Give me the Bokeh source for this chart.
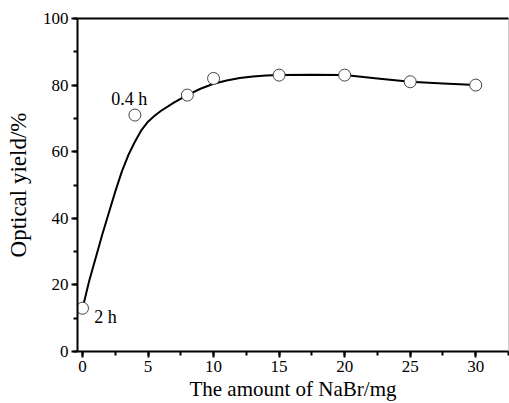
from bokeh.plotting import figure
from bokeh.models import SingleIntervalTicker, LinearAxis, Range1d, ColumnDataSource
from bokeh.core.properties import value
from bokeh.embed import file_html
from bokeh.resources import INLINE

# measured data points
nabr_mg = [0, 4, 8, 10, 15, 20, 25, 30]
optical_yield = [13, 71, 77, 82, 83, 83, 81, 80]

# fitted curve
curve_x = [0.1, 0.5, 1, 1.5, 2, 2.5, 3, 3.5, 4, 4.5, 5, 5.5, 6, 7, 8, 9, 10,
           11, 12, 13, 14, 15, 17.5, 20, 22.5, 25, 27.5, 30]
curve_y = [14.5, 21, 28, 35, 41.5, 48, 54, 59, 63, 66.5, 69, 70.8, 72.3, 74.8, 77, 78.9, 80.4,
           81.4, 82.1, 82.6, 82.9, 83, 83.1, 83, 82, 81, 80.5, 80]

# annotations
note_x = [2.2, 0.9]
note_y = [75.8, 10.5]
note_text = ["0.4 h", "2 h"]

FONT = "Times"

p = figure(width=509, height=403, output_backend="svg", toolbar_location=None,
           x_range=Range1d(-0.38, 32.5), y_range=Range1d(0, 100),
           min_border_left=77, min_border_right=1, min_border_top=18, min_border_bottom=51)
p.xaxis.visible = False
p.yaxis.visible = False
p.grid.visible = False
p.outline_line_color = "#cccccc"
p.outline_line_width = 1
p.background_fill_color = "white"

def style(ax, interval):
    ax.ticker = SingleIntervalTicker(interval=interval, num_minor_ticks=2)
    ax.axis_line_width = 2
    ax.axis_line_color = "black"
    ax.major_tick_line_width = 2
    ax.minor_tick_line_width = 2
    ax.major_tick_in = 0
    ax.major_tick_out = 6
    ax.minor_tick_in = 0
    ax.minor_tick_out = 4
    ax.major_label_text_font = FONT
    ax.major_label_text_font_size = "17px"
    ax.major_label_text_color = "black"
    ax.axis_label_text_font = FONT
    ax.axis_label_text_font_size = "21px"
    ax.axis_label_text_font_style = "normal"
    ax.axis_label_text_color = "black"

xa = LinearAxis(axis_label="The amount of NaBr/mg")
style(xa, 5)
xa.major_label_standoff = 3
xa.axis_label_standoff = 2
p.add_layout(xa, "below")

ya = LinearAxis(axis_label="Optical yield/%")
style(ya, 20)
ya.axis_label_text_font_size = "23px"
ya.major_label_standoff = 3
ya.axis_label_standoff = 9
p.add_layout(ya, "left")

top = LinearAxis()
top.axis_line_width = 2
top.axis_line_color = "black"
top.major_tick_line_color = None
top.minor_tick_line_color = None
top.major_label_text_font_size = "0px"
top.major_label_standoff = 0
p.add_layout(top, "above")

p.line(curve_x, curve_y, line_color="black", line_width=2)
p.scatter(nabr_mg, optical_yield, size=12, marker="circle", fill_color="white",
          line_color="#444444", line_width=1)

src = ColumnDataSource(dict(x=note_x, y=note_y, t=note_text))
p.text(x="x", y="y", text="t", source=src, text_font=value(FONT), text_font_size="18px",
       text_color="black", text_baseline="alphabetic", text_align="left")

open("out.html", "w").write(file_html(p, INLINE))
